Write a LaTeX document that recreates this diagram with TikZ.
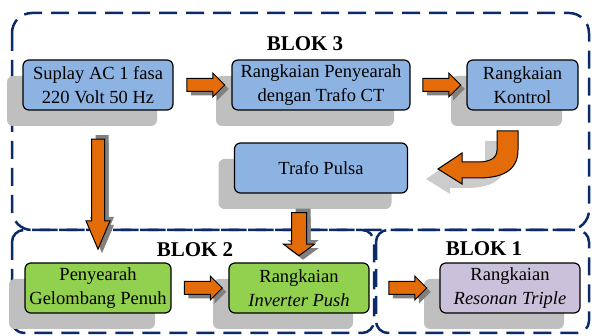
\documentclass[tikz,border=0pt]{standalone}
\usepackage{fontspec}
\setmainfont{Liberation Serif}
\usepackage{tikz}
\usetikzlibrary{arrows,shapes,shapes.arrows}
\usetikzlibrary{positioning,shadows,calc}
\definecolor{boxblue}{HTML}{8DB3E2}
\definecolor{boxgreen}{HTML}{92D050}
\definecolor{boxpurple}{HTML}{CCC1DA}
\definecolor{arrorange}{HTML}{E36C09}
\definecolor{framenavy}{HTML}{0A2A6A}
\tikzstyle{blok} = [draw, rectangle, rounded corners=6pt, line width=1.2pt,
    minimum height=50pt, align=center, font=\fontsize{18.5}{24}\selectfont,
    drop shadow={shadow xshift=-16pt, shadow yshift=-16pt, fill=black!25, opacity=1}]
\tikzstyle{frame} = [draw=framenavy, line width=2.5pt, dash pattern=on 18pt off 9pt]
\tikzstyle{title} = [font=\fontsize{21}{24}\selectfont\bfseries, inner sep=0pt]
\tikzstyle{harrow} = [single arrow, draw, fill=arrorange, line width=1pt,
    inner sep=6pt, minimum height=38pt, single arrow head extend=5.5pt,
    drop shadow={shadow xshift=4pt, shadow yshift=-4pt, fill=black!50, opacity=1}]
\tikzstyle{varrow} = [harrow, rotate=-90,
    drop shadow={shadow xshift=4pt, shadow yshift=4pt, fill=black!50, opacity=1}]
\tikzstyle{curvarrow} = [draw, fill=arrorange, line width=1pt,
    drop shadow={shadow xshift=-12pt, shadow yshift=-10pt, fill=black!20, opacity=1}]

\begin{document}
\begin{tikzpicture}[x=1pt, y=1pt, node distance=201pt]
  \useasboundingbox (0,0) rectangle (592,336);
  % dashed frames
  \draw [frame, rounded corners=20pt] (12,323) rectangle (589,106);
  \draw [frame, rounded corners=12pt] (12,106) rectangle (374,3);
  \draw [frame, rounded corners=12pt] (376,106) rectangle (589,3);
  \node [title] (t3) at (305,292) {BLOK 3};
  \node [title] (t2) at (195,86) {BLOK 2};
  \node [title] (t1) at (484,87) {BLOK 1};
  % blok 3
  \node [blok, fill=boxblue, minimum width=150pt] (sup) at (98,251) {Suplay AC 1 fasa\\220 Volt 50 Hz};
  \node [blok, fill=boxblue, right of=sup, node distance=223pt, minimum width=178pt] (peny) {Rangkaian Penyearah\\dengan Trafo CT};
  \node [blok, fill=boxblue, right of=peny, node distance=201.5pt, minimum width=111pt] (kon) {Rangkaian\\Kontrol};
  \node [blok, fill=boxblue, below of=peny, node distance=83pt, minimum width=173pt] (trafo) {Trafo Pulsa};
  % blok 2 and blok 1
  \node [blok, fill=boxgreen, below of=sup, node distance=203pt, minimum width=146pt] (peny2) {Penyearah\\Gelombang Penuh};
  \node [blok, fill=boxgreen, right of=peny2, minimum width=140pt] (inv) {Rangkaian\\\textit{Inverter Push}};
  \node [blok, fill=boxpurple, right of=inv, node distance=211pt, minimum width=140pt] (res) {Rangkaian\\\textit{Resonan Triple}};
  % arrows
  \path (sup) -- node [harrow] (a1) {} (peny);
  \path (peny) -- node [harrow] (a2) {} (kon);
  \path (peny2) -- node [harrow] (a3) {} (inv);
  \path (inv) -- node [harrow] (a4) {} (res);
  \path (sup) -- node [varrow, minimum height=110pt, single arrow tip angle=46] (a5) {} (peny2);
  \path (trafo.south -| inv.north) -- node [varrow, pos=0.55, inner sep=7pt, minimum height=43pt, single arrow head extend=8pt, single arrow tip angle=107] (a6) {} (inv.north);
  \draw [curvarrow] (497,205) -- (518,205) -- (518,186)
      .. controls (518,164) and (500,158) .. (478,158) -- (462,158) -- (462,152)
      -- (438,167) -- (462,183) -- (462,174) -- (478,174)
      .. controls (490,174) and (497,178) .. (497,186) -- cycle;
\end{tikzpicture}
\end{document}
